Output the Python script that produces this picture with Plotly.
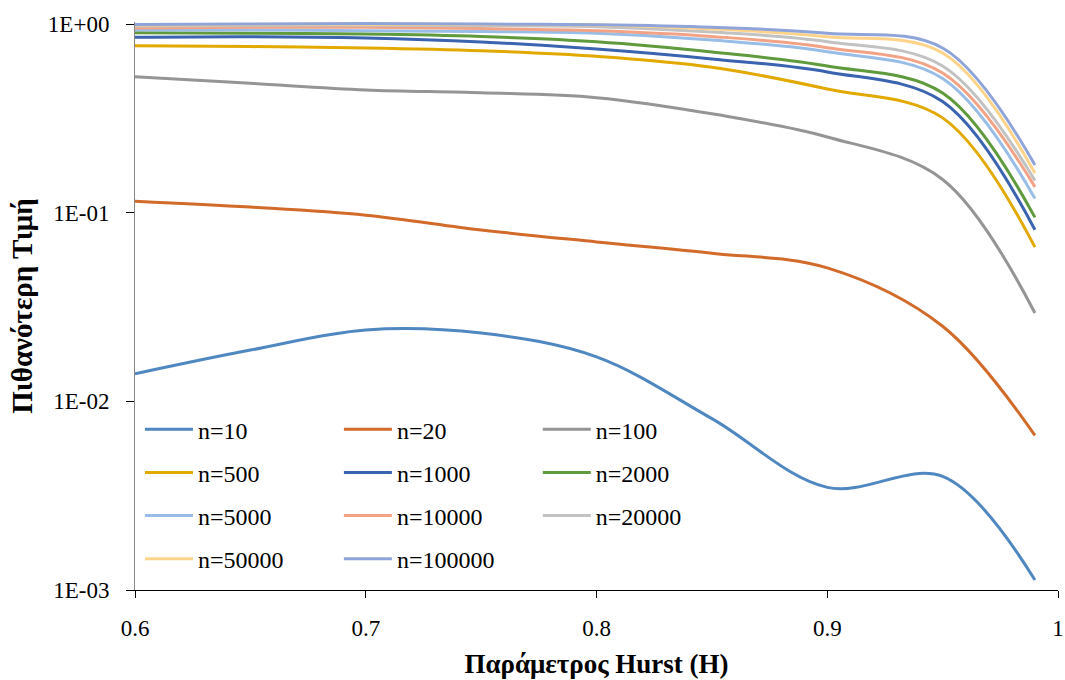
import plotly.graph_objects as go

H = [0.6, 0.65, 0.7, 0.75, 0.8, 0.85, 0.9, 0.95, 0.99]

n10 = [0.0140, 0.0187, 0.0239, 0.0230, 0.0172, 0.0081, 0.0035, 0.0040, 0.00113]
n20 = [0.115, 0.107, 0.097, 0.081, 0.070, 0.061, 0.051, 0.0250, 0.0066]
n100 = [0.526, 0.485, 0.447, 0.432, 0.407, 0.334, 0.252, 0.150, 0.0294]
n500 = [0.767, 0.759, 0.747, 0.722, 0.674, 0.590, 0.452, 0.318, 0.0657]
n1000 = [0.850, 0.856, 0.843, 0.803, 0.737, 0.653, 0.557, 0.388, 0.0812]
n2000 = [0.899, 0.893, 0.885, 0.859, 0.806, 0.711, 0.599, 0.431, 0.0944]
n5000 = [0.929, 0.929, 0.921, 0.912, 0.893, 0.823, 0.713, 0.514, 0.119]
n10000 = [0.952, 0.960, 0.960, 0.946, 0.921, 0.859, 0.749, 0.550, 0.137]
n20000 = [0.976, 0.982, 0.984, 0.980, 0.968, 0.907, 0.806, 0.599, 0.148]
n50000 = [0.988, 0.994, 0.996, 0.994, 0.988, 0.941, 0.856, 0.702, 0.162]
n100000 = [0.995, 1.0, 1.005, 1.0, 0.99, 0.96, 0.893, 0.746, 0.179]

series_names = ["n=10", "n=20", "n=100", "n=500", "n=1000", "n=2000",
                "n=5000", "n=10000", "n=20000", "n=50000", "n=100000"]
series_values = [n10, n20, n100, n500, n1000, n2000,
                 n5000, n10000, n20000, n50000, n100000]
colors = ["#4f87c0", "#d26a2a", "#959595", "#e2aa00", "#3a63b0", "#5f9a3d",
          "#98bde6", "#f2a386", "#c2c2c2", "#ffd48a", "#8fa4d8"]

y_tickvals = [1, 0.1, 0.01, 0.001]
y_ticktext = ["1E+00", "1E-01", "1E-02", "1E-03"]
x_tickvals = [0.6, 0.7, 0.8, 0.9, 1.0]
x_ticktext = ["0.6", "0.7", "0.8", "0.9", "1"]

FONT = "Liberation Serif"
legend_ids = ["legend", "legend2", "legend3"]

fig = go.Figure()
for i, (name, vals, col) in enumerate(zip(series_names, series_values, colors)):
    fig.add_trace(go.Scatter(
        x=H, y=vals, name=name, mode="lines",
        line=dict(color=col, width=3, shape="spline", smoothing=1.0),
        legend=legend_ids[i % 3], legendgroup=name,
    ))

leg_common = dict(
    orientation="v", bgcolor="rgba(0,0,0,0)", borderwidth=0,
    font=dict(family=FONT, size=24, color="#000000"),
    itemwidth=48, tracegroupgap=9, yanchor="top", xanchor="left",
    traceorder="grouped",
)

fig.update_layout(
    width=1065, height=680,
    margin=dict(l=135, r=7, t=22, b=90),
    paper_bgcolor="white", plot_bgcolor="white",
    font=dict(family=FONT, size=23, color="#000000"),
    legend=dict(x=0.0054, y=0.322, **leg_common),
    legend2=dict(x=0.2209, y=0.322, **leg_common),
    legend3=dict(x=0.4364, y=0.322, **leg_common),
    xaxis=dict(
        range=[0.6, 1.0], tickvals=x_tickvals, ticktext=x_ticktext,
        showgrid=False, zeroline=False,
        showline=True, linecolor="#000000", linewidth=1,
        ticks="outside", ticklen=7, tickcolor="#000000",
        ticklabelstandoff=10, ticklabeloverflow="allow",
        tickfont=dict(family=FONT, size=23),
        title=dict(text="<b>Παράμετρος Hurst (H)</b>",
                   font=dict(family=FONT, size=27), standoff=14),
        automargin=False,
    ),
    yaxis=dict(
        type="log", range=[-3, 0.0106],
        tickvals=y_tickvals, ticktext=y_ticktext,
        showgrid=False, zeroline=False,
        showline=True, linecolor="#868686", linewidth=1,
        ticks="outside", ticklen=8, tickcolor="#000000",
        ticklabelstandoff=12,
        tickfont=dict(family=FONT, size=23),
        title=dict(text="<b>Πιθανότερη Τιμή</b>",
                   font=dict(family=FONT, size=29), standoff=6),
        automargin=False,
    ),
)

fig.write_html("out.html")
